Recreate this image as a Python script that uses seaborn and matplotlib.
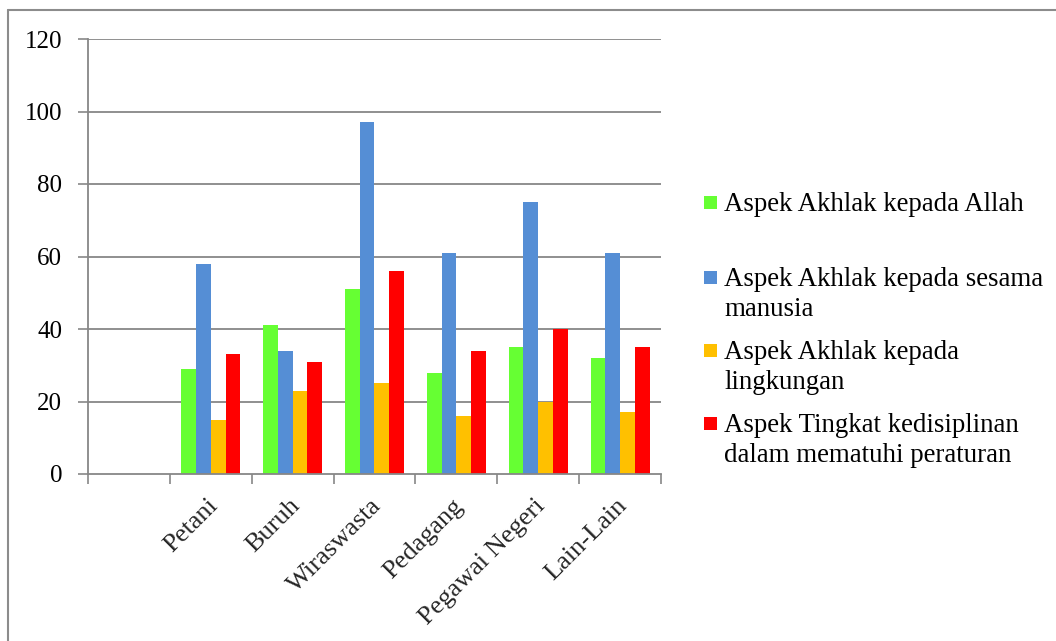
import matplotlib
matplotlib.use("Agg")
import matplotlib.pyplot as plt
from matplotlib.patches import Rectangle
from matplotlib.transforms import ScaledTranslation
import numpy as np
import pandas as pd
import seaborn as sns

# Occupation groups (x axis categories)
categories = ["Petani", "Buruh", "Wiraswasta", "Pedagang", "Pegawai Negeri", "Lain-Lain"]

# Aspect series
series_names = [
    "Aspek Akhlak kepada Allah",
    "Aspek Akhlak kepada sesama manusia",
    "Aspek Akhlak kepada lingkungan",
    "Aspek Tingkat kedisiplinan dalam mematuhi peraturan",
]
legend_lines = [
    ["Aspek Akhlak kepada Allah"],
    ["Aspek Akhlak kepada sesama", "manusia"],
    ["Aspek Akhlak kepada", "lingkungan"],
    ["Aspek Tingkat kedisiplinan", "dalam mematuhi peraturan"],
]

akhlak_allah = [29, 41, 51, 28, 35, 32]
akhlak_manusia = [58, 34, 97, 61, 75, 61]
akhlak_lingkungan = [15, 23, 25, 16, 20, 17]
kedisiplinan = [33, 31, 56, 34, 40, 35]

y_ticks = [0, 20, 40, 60, 80, 100, 120]

colors = ["#66FF33", "#558ED5", "#FFC000", "#FF0000"]
grid_gray = "#878787"

values = [akhlak_allah, akhlak_manusia, akhlak_lingkungan, kedisiplinan]
df = pd.DataFrame(
    [(cat, name, v) for name, vals in zip(series_names, values) for cat, v in zip(categories, vals)],
    columns=["Pekerjaan", "Aspek", "Nilai"],
)

sns.set_theme(style="white")
plt.rcParams["font.family"] = ["Liberation Serif", "DejaVu Serif"]

W, H = 1056, 641
fig = plt.figure(figsize=(W / 100, H / 100), dpi=100)
fig.patch.set_facecolor("white")

# outer chart border (open to the right and bottom)
fig.add_artist(plt.Line2D([8 / W, 8 / W], [0, 1 - 10 / H], transform=fig.transFigure,
                          color="#8C8C8C", linewidth=1.5))
fig.add_artist(plt.Line2D([8 / W, 1], [1 - 10 / H, 1 - 10 / H], transform=fig.transFigure,
                          color="#8C8C8C", linewidth=1.5))

ax = fig.add_axes([88 / W, (H - 474) / H, (661 - 88) / W, (474 - 39) / H])
sns.barplot(data=df, x="Pekerjaan", y="Nilai", hue="Aspek", order=categories,
            hue_order=series_names, palette=colors, saturation=1, width=0.72,
            linewidth=0, legend=False, ax=ax, errorbar=None)

# an empty category slot precedes the occupation groups
ax.set_xlim(-1.5, len(categories) - 0.5)
ax.set_ylim(0, 120)
ax.set_xlabel("")
ax.set_ylabel("")

ax.set_yticks(y_ticks)
ax.set_yticklabels([str(t) for t in y_ticks], fontsize=18, color="black")
ax.tick_params(axis="y", length=7, width=1.2, color=grid_gray, pad=11.5, left=True)
for t in y_ticks[1:]:
    ax.axhline(t, color=grid_gray, linewidth=1.3, zorder=0)

ax.set_xticks(np.arange(len(categories)))
ax.set_xticks(np.arange(-1.5, len(categories)), minor=True)
ax.tick_params(axis="x", which="major", length=0, pad=15)
ax.tick_params(axis="x", which="minor", length=7, width=1.2, color=grid_gray, bottom=True)
ax.set_xticklabels(categories, fontsize=19, rotation=45, ha="right", va="top",
                   rotation_mode="anchor")
offset = ScaledTranslation(-4 / 100, 0, fig.dpi_scale_trans)
for lbl in ax.get_xticklabels():
    lbl.set_transform(lbl.get_transform() + offset)

for side in ["top", "right"]:
    ax.spines[side].set_visible(False)
for side in ["left", "bottom"]:
    ax.spines[side].set_color(grid_gray)
    ax.spines[side].set_linewidth(1.3)

# legend entries: square swatch followed by wrapped label (pixel baselines)
legend_baselines = [211, 286, 359, 432]
line_gap = 30
for col, lines, yb in zip(colors, legend_lines, legend_baselines):
    fig.patches.append(Rectangle((704 / W, (H - yb + 2) / H), 13 / W, 13 / H,
                                 transform=fig.transFigure, facecolor=col, edgecolor="none"))
    for k, line in enumerate(lines):
        fig.text(724 / W, (H - yb - k * line_gap) / H, line, fontsize=19.4, color="black",
                 ha="left", va="baseline", transform=fig.transFigure)

fig.savefig("out.png", dpi=100, facecolor="white")
